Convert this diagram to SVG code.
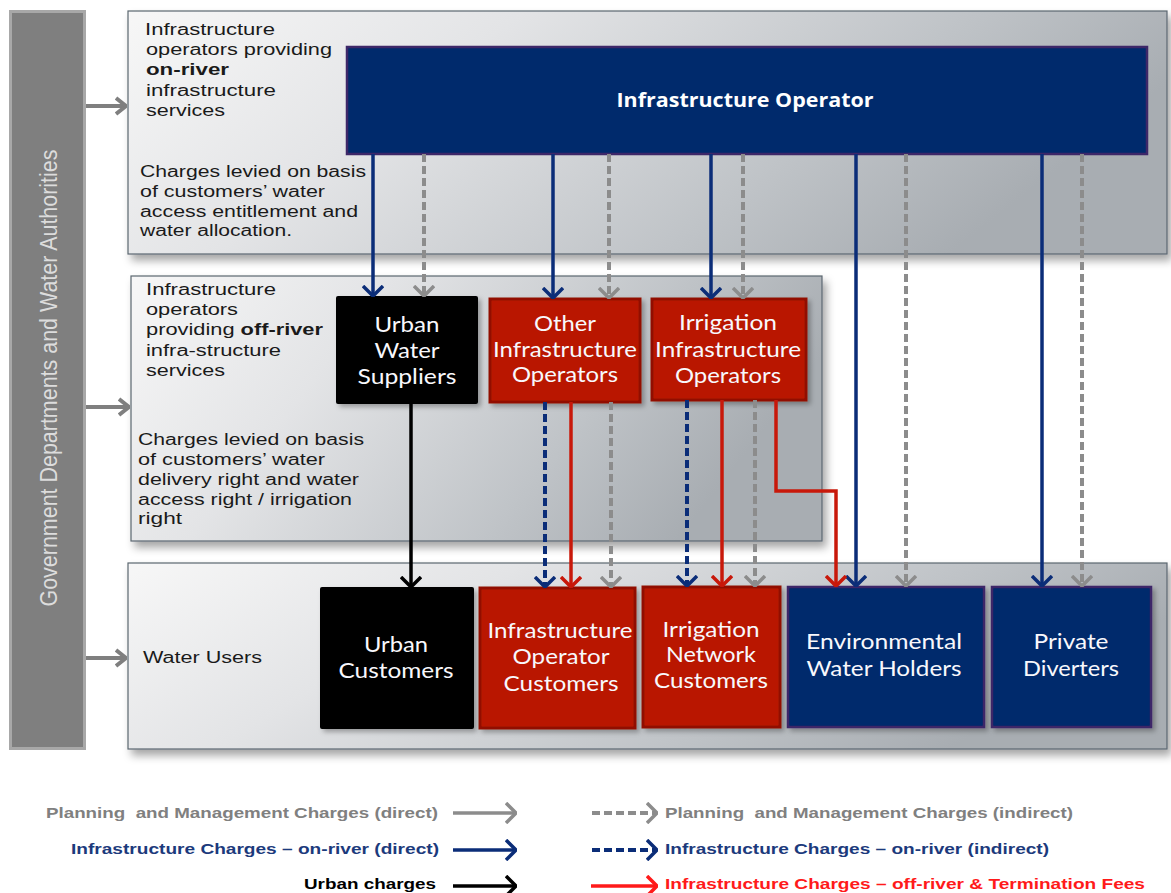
<svg xmlns="http://www.w3.org/2000/svg" width="1171" height="893" viewBox="0 0 1171 893">
<defs>
  <linearGradient id="panelGrad" x1="0" y1="0" x2="1" y2="0.3">
    <stop offset="0" stop-color="#f7f7f7"/>
    <stop offset="0.35" stop-color="#e3e4e6"/>
    <stop offset="0.75" stop-color="#bfc3c7"/>
    <stop offset="1" stop-color="#a8adb2"/>
  </linearGradient>
  <filter id="shadow" x="-5%" y="-10%" width="115%" height="130%">
    <feDropShadow dx="4" dy="6" stdDeviation="4" flood-color="#000" flood-opacity="0.35"/>
  </filter>
  <filter id="nshadow" x="-10%" y="-10%" width="130%" height="130%">
    <feDropShadow dx="3" dy="3" stdDeviation="2.5" flood-color="#000" flood-opacity="0.3"/>
  </filter>
  <marker id="mBlue" viewBox="0 0 12 22" refX="11" refY="11" markerWidth="12" markerHeight="22" markerUnits="userSpaceOnUse" orient="auto">
    <path d="M1,1 L11,11 L1,21" fill="none" stroke="#0b2d78" stroke-width="3.5"/>
  </marker>
  <marker id="mGray" viewBox="0 0 12 22" refX="11" refY="11" markerWidth="12" markerHeight="22" markerUnits="userSpaceOnUse" orient="auto">
    <path d="M1,1 L11,11 L1,21" fill="none" stroke="#8c8c8c" stroke-width="3.5"/>
  </marker>
  <marker id="mBlack" viewBox="0 0 12 22" refX="11" refY="11" markerWidth="12" markerHeight="22" markerUnits="userSpaceOnUse" orient="auto">
    <path d="M1,1 L11,11 L1,21" fill="none" stroke="#000000" stroke-width="3.5"/>
  </marker>
  <marker id="mRed" viewBox="0 0 12 22" refX="11" refY="11" markerWidth="12" markerHeight="22" markerUnits="userSpaceOnUse" orient="auto">
    <path d="M1,1 L11,11 L1,21" fill="none" stroke="#c8180a" stroke-width="3.5"/>
  </marker>
  <marker id="mBrightRed" viewBox="0 0 12 22" refX="11" refY="11" markerWidth="12" markerHeight="22" markerUnits="userSpaceOnUse" orient="auto">
    <path d="M1,1 L11,11 L1,21" fill="none" stroke="#ff1a1a" stroke-width="3.5"/>
  </marker>
  <marker id="mSide" viewBox="0 0 12 20" refX="11" refY="10" markerWidth="12" markerHeight="20" markerUnits="userSpaceOnUse" orient="auto">
    <path d="M1,2 L11,10 L1,18" fill="none" stroke="#7f7f7f" stroke-width="4"/>
  </marker>
</defs>
<style>
  .panel { fill: url(#panelGrad); stroke: #5b6770; stroke-width: 1.2; filter: url(#shadow); }
  .ptext { font-family: "Liberation Sans", Arial, sans-serif; font-size: 16px; fill: #1a1a1a; }
  .b { font-weight: bold; }
  .ntext { font-family: Lato, "Open Sans", sans-serif; font-size: 20.5px; fill: #f8f8fc; text-anchor: middle; }
  .ttext { font-family: "Open Sans", sans-serif; font-size: 20px; font-weight: bold; fill: #ffffff; text-anchor: middle; }
  .black { fill: #000000; filter: url(#nshadow); }
  .red { fill: #b91500; stroke: #921000; stroke-width: 3; filter: url(#nshadow); }
  .navy { fill: #002a6c; stroke: #3d2768; stroke-width: 2.5; filter: url(#nshadow); }
  .cBlue { fill: none; stroke: #0b2d78; stroke-width: 3.5; marker-end: url(#mBlue); }
  .cBlueD { fill: none; stroke: #0b2d78; stroke-width: 4; stroke-dasharray: 8 4; marker-end: url(#mBlue); }
  .cGrayD { fill: none; stroke: #8c8c8c; stroke-width: 4; stroke-dasharray: 8 4; marker-end: url(#mGray); }
  .cGray { fill: none; stroke: #8c8c8c; stroke-width: 3.5; marker-end: url(#mGray); }
  .cBlack { fill: none; stroke: #000000; stroke-width: 3.5; marker-end: url(#mBlack); }
  .cRed { fill: none; stroke: #c8180a; stroke-width: 3.5; marker-end: url(#mRed); }
  .cBRed { fill: none; stroke: #ff1a1a; stroke-width: 3.5; marker-end: url(#mBrightRed); }
  .cSide { fill: none; stroke: #7f7f7f; stroke-width: 4; marker-end: url(#mSide); }
  .ltext { font-family: "Liberation Sans", Arial, sans-serif; font-size: 15px; font-weight: bold; white-space: pre; }
</style>

<!-- Left authority bar -->
<g id="gov">
  <rect x="10.5" y="11.5" width="74" height="737" fill="#7f7f7f" stroke="#a8a8a8" stroke-width="3"/>
  <text transform="translate(57 378) rotate(-90)" x="0" y="0" text-anchor="middle" textLength="457" lengthAdjust="spacingAndGlyphs" font-family="Liberation Sans, Arial, sans-serif" font-size="23" fill="#dcdcdc">Government Departments and Water Authorities</text>
</g>

<!-- Panels -->
<g id="panel-onriver">
  <rect class="panel" x="128" y="11" width="1039" height="243"/>
  <text class="ptext" x="145" y="35" textLength="130" lengthAdjust="spacingAndGlyphs">Infrastructure</text>
  <text class="ptext" x="146" y="55" textLength="186" lengthAdjust="spacingAndGlyphs">operators providing</text>
  <text class="ptext b" x="146" y="75" textLength="83" lengthAdjust="spacingAndGlyphs">on-river</text>
  <text class="ptext" x="146" y="96" textLength="130" lengthAdjust="spacingAndGlyphs">infrastructure</text>
  <text class="ptext" x="146" y="116" textLength="79" lengthAdjust="spacingAndGlyphs">services</text>
  <text class="ptext" x="140" y="177" textLength="226" lengthAdjust="spacingAndGlyphs">Charges levied on basis</text>
  <text class="ptext" x="140" y="197" textLength="185" lengthAdjust="spacingAndGlyphs">of customers’ water</text>
  <text class="ptext" x="140" y="217" textLength="218" lengthAdjust="spacingAndGlyphs">access entitlement and</text>
  <text class="ptext" x="140" y="236" textLength="152" lengthAdjust="spacingAndGlyphs">water allocation.</text>
</g>

<g id="panel-offriver">
  <rect class="panel" x="131" y="276" width="691" height="265"/>
  <text class="ptext" x="146" y="295" textLength="130" lengthAdjust="spacingAndGlyphs">Infrastructure</text>
  <text class="ptext" x="146" y="315" textLength="92" lengthAdjust="spacingAndGlyphs">operators</text>
  <text class="ptext" x="146" y="335" textLength="177" lengthAdjust="spacingAndGlyphs">providing <tspan class="b">off-river</tspan></text>
  <text class="ptext" x="146" y="356" textLength="135" lengthAdjust="spacingAndGlyphs">infra-structure</text>
  <text class="ptext" x="146" y="376" textLength="79" lengthAdjust="spacingAndGlyphs">services</text>
  <text class="ptext" x="138" y="445" textLength="226" lengthAdjust="spacingAndGlyphs">Charges levied on basis</text>
  <text class="ptext" x="138" y="465" textLength="187" lengthAdjust="spacingAndGlyphs">of customers’ water</text>
  <text class="ptext" x="138" y="485" textLength="221" lengthAdjust="spacingAndGlyphs">delivery right and water</text>
  <text class="ptext" x="138" y="505" textLength="214" lengthAdjust="spacingAndGlyphs">access right / irrigation</text>
  <text class="ptext" x="138" y="524" textLength="44" lengthAdjust="spacingAndGlyphs">right</text>
</g>

<g id="panel-users">
  <rect class="panel" x="128" y="563" width="1039" height="186"/>
  <text class="ptext" x="143" y="663" textLength="119" lengthAdjust="spacingAndGlyphs">Water Users</text>
</g>

<!-- Nodes -->
<g id="infrastructure-operator">
  <rect x="347" y="47" width="800" height="107" fill="#002a6c" stroke="#3d2768" stroke-width="2.5"/>
  <text class="ttext" x="745" y="107" textLength="257" lengthAdjust="spacingAndGlyphs">Infrastructure Operator</text>
</g>

<g id="urban-water-suppliers">
  <rect class="black" x="336" y="296" width="142" height="108" rx="2"/>
  <text class="ntext" x="407" y="332" textLength="65" lengthAdjust="spacingAndGlyphs">Urban</text>
  <text class="ntext" x="407" y="358" textLength="65" lengthAdjust="spacingAndGlyphs">Water</text>
  <text class="ntext" x="407" y="384" textLength="99" lengthAdjust="spacingAndGlyphs">Suppliers</text>
</g>

<g id="other-infrastructure-operators">
  <rect class="red" x="490" y="299" width="150" height="103"/>
  <text class="ntext" x="565" y="331" textLength="62" lengthAdjust="spacingAndGlyphs">Other</text>
  <text class="ntext" x="565" y="357" textLength="144" lengthAdjust="spacingAndGlyphs">Infrastructure</text>
  <text class="ntext" x="565" y="382" textLength="106" lengthAdjust="spacingAndGlyphs">Operators</text>
</g>

<g id="irrigation-infrastructure-operators">
  <rect class="red" x="652" y="299" width="154" height="101"/>
  <text class="ntext" x="728" y="330" textLength="98" lengthAdjust="spacingAndGlyphs">Irrigation</text>
  <text class="ntext" x="728" y="357" textLength="146" lengthAdjust="spacingAndGlyphs">Infrastructure</text>
  <text class="ntext" x="728" y="383" textLength="106" lengthAdjust="spacingAndGlyphs">Operators</text>
</g>

<g id="urban-customers">
  <rect class="black" x="320" y="587" width="154" height="142" rx="2"/>
  <text class="ntext" x="396" y="652" textLength="64" lengthAdjust="spacingAndGlyphs">Urban</text>
  <text class="ntext" x="396" y="678" textLength="115" lengthAdjust="spacingAndGlyphs">Customers</text>
</g>

<g id="infrastructure-operator-customers">
  <rect class="red" x="480" y="588" width="155" height="140"/>
  <text class="ntext" x="560" y="638" textLength="145" lengthAdjust="spacingAndGlyphs">Infrastructure</text>
  <text class="ntext" x="561" y="664" textLength="97" lengthAdjust="spacingAndGlyphs">Operator</text>
  <text class="ntext" x="561" y="691" textLength="115" lengthAdjust="spacingAndGlyphs">Customers</text>
</g>

<g id="irrigation-network-customers">
  <rect class="red" x="643" y="587" width="137" height="140"/>
  <text class="ntext" x="711" y="637" textLength="97" lengthAdjust="spacingAndGlyphs">Irrigation</text>
  <text class="ntext" x="711" y="662" textLength="90" lengthAdjust="spacingAndGlyphs">Network</text>
  <text class="ntext" x="711" y="688" textLength="114" lengthAdjust="spacingAndGlyphs">Customers</text>
</g>

<g id="environmental-water-holders">
  <rect class="navy" x="788" y="587" width="196" height="140"/>
  <text class="ntext" x="884" y="649" textLength="156" lengthAdjust="spacingAndGlyphs">Environmental</text>
  <text class="ntext" x="884" y="676" textLength="155" lengthAdjust="spacingAndGlyphs">Water Holders</text>
</g>

<g id="private-diverters">
  <rect class="navy" x="992" y="587" width="159" height="140"/>
  <text class="ntext" x="1071" y="649" textLength="75" lengthAdjust="spacingAndGlyphs">Private</text>
  <text class="ntext" x="1071" y="676" textLength="96" lengthAdjust="spacingAndGlyphs">Diverters</text>
</g>

<!-- Connectors -->
<g id="connectors">
  <path class="cSide" d="M86,106 H126"/>
  <path class="cSide" d="M86,407 H129"/>
  <path class="cSide" d="M86,658 H126"/>

  <path class="cBlue" d="M373,154 V296"/>
  <path class="cGrayD" d="M424,154 V296"/>
  <path class="cBlue" d="M553,154 V298"/>
  <path class="cGrayD" d="M609,154 V298"/>
  <path class="cBlue" d="M711,154 V298"/>
  <path class="cGrayD" d="M743,154 V298"/>
  <path class="cBlue" d="M856,154 V586"/>
  <path class="cGrayD" d="M906,154 V586"/>
  <path class="cBlue" d="M1042,154 V586"/>
  <path class="cGrayD" d="M1082,154 V586"/>

  <path class="cBlack" d="M411,404 V587"/>

  <path class="cBlueD" d="M545,402 V587"/>
  <path class="cRed" d="M571,402 V587"/>
  <path class="cGrayD" d="M611,402 V587"/>

  <path class="cBlueD" d="M687,400 V586"/>
  <path class="cRed" d="M722,400 V586"/>
  <path class="cGrayD" d="M755,400 V586"/>
  <path class="cRed" d="M776,400 V491 H836 V586"/>
</g>

<!-- Legend -->
<g id="legend">
  <text class="ltext" x="46" y="818" fill="#808080" textLength="392" lengthAdjust="spacingAndGlyphs">Planning  and Management Charges (direct)</text>
  <path class="cGray" d="M453,813 H516"/>
  <path class="cGrayD" d="M592,813 H657"/>
  <text class="ltext" x="665" y="818" fill="#808080" textLength="408" lengthAdjust="spacingAndGlyphs">Planning  and Management Charges (indirect)</text>

  <text class="ltext" x="71" y="854" fill="#1c3a7c" textLength="368" lengthAdjust="spacingAndGlyphs">Infrastructure Charges – on-river (direct)</text>
  <path class="cBlue" d="M453,850 H516"/>
  <path class="cBlueD" d="M592,850 H657"/>
  <text class="ltext" x="665" y="854" fill="#1c3a7c" textLength="384" lengthAdjust="spacingAndGlyphs">Infrastructure Charges – on-river (indirect)</text>

  <text class="ltext" x="304" y="889" fill="#000000" textLength="132" lengthAdjust="spacingAndGlyphs">Urban charges</text>
  <path class="cBlack" d="M453,886 H516"/>
  <path class="cBRed" d="M591,886 H657"/>
  <text class="ltext" x="665" y="889" fill="#ff1a1a" textLength="480" lengthAdjust="spacingAndGlyphs">Infrastructure Charges – off-river &amp; Termination Fees</text>
</g>
</svg>
